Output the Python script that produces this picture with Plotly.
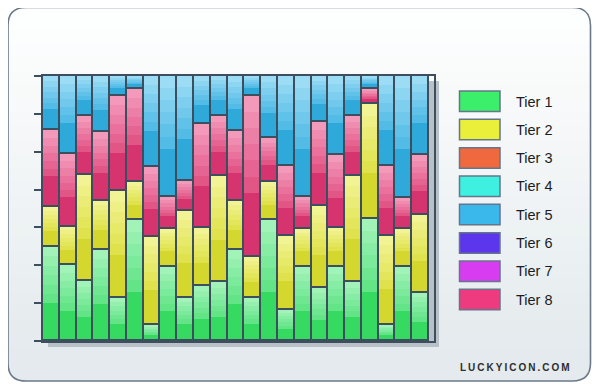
import plotly.graph_objects as go

# ---------------- data ----------------
bars = [str(i) for i in range(1, 24)]
tier_names = ["Tier 1", "Tier 2", "Tier 3", "Tier 4", "Tier 5", "Tier 6", "Tier 7", "Tier 8"]
tier1 = [35.5, 28.5, 22.8, 34.5, 16.3, 45.8, 6.1, 28.1, 16.3, 20.8, 22.3, 34.5, 16.3, 45.8, 11.7, 28.1, 20.0, 28.1, 22.3, 46.1, 6.2, 28.1, 18.3]
tier2 = [15.1, 14.7, 39.7, 18.5, 40.3, 14.2, 33.2, 14.2, 32.8, 21.9, 39.9, 18.5, 15.3, 14.2, 27.8, 14.2, 30.8, 14.7, 40.1, 43.3, 33.3, 14.2, 29.4]
tier3 = [0] * 23
tier4 = [0] * 23
tier5 = [20.5, 29.3, 15.0, 21.1, 7.5, 4.9, 34.4, 45.7, 39.7, 18.2, 15.2, 20.9, 7.5, 23.5, 34.1, 45.7, 17.3, 29.7, 15.2, 4.9, 34.1, 45.9, 29.7]
tier6 = [0] * 23
tier7 = [0] * 23
tier8 = [28.9, 27.5, 22.5, 25.9, 35.9, 35.1, 26.3, 12.0, 11.2, 39.1, 22.6, 26.1, 60.9, 16.5, 26.4, 12.0, 31.9, 27.5, 22.4, 5.7, 26.4, 11.8, 22.6]

# ---------------- style ----------------
legend_colors = ["#3cef6a", "#eaf03a", "#f0683e", "#3ef0e0", "#3ab8ec", "#5c36ec", "#d83cf0", "#ee3a7e"]
# (dark bottom, light-zone bottom, light-zone top) tones of each glossy segment
tones = {"Tier 1": ("#36da61", "#62e487", "#a2f3b8"),
         "Tier 2": ("#d4d82e", "#dfe24c", "#f2f394"),
         "Tier 3": ("#e05a30", "#ea7a56", "#f4a88c"),
         "Tier 4": ("#30d8c8", "#5ce4d8", "#9af2ea"),
         "Tier 5": ("#2fa9da", "#52bce6", "#9cdcf5"),
         "Tier 6": ("#5030d8", "#6e52e4", "#a28cf2"),
         "Tier 7": ("#c030d8", "#d058e4", "#e696f2"),
         "Tier 8": ("#d6346e", "#e25686", "#f39abb")}
DARK = 0.40
NBANDS = 6
outline = "#3d4e5e"

series = {"Tier 1": tier1, "Tier 2": tier2, "Tier 3": tier3, "Tier 4": tier4,
          "Tier 5": tier5, "Tier 6": tier6, "Tier 7": tier7, "Tier 8": tier8}
stack_order = ["Tier 1", "Tier 2", "Tier 3", "Tier 4", "Tier 6", "Tier 7", "Tier 8", "Tier 5"]

W, H = 600, 390
OFF = 8  # page body margin
L, R, T, B = 43, 434, 76, 341  # plot area in screen pixels
PW, PH = R - L, B - T


def px(x):
    return (x - L) / PW


def py(y):
    return (B - y) / PH


def hex2rgb(h):
    return tuple(int(h[i:i + 2], 16) for i in (1, 3, 5))


def mix(a, b, t):
    ca, cb = hex2rgb(a), hex2rgb(b)
    return "rgb(%d,%d,%d)" % tuple(round(ca[i] + (cb[i] - ca[i]) * t) for i in range(3))


xs = list(range(23))

fig = go.Figure()
for name in stack_order:
    vals = series[name]
    dk, lo, hi = tones[name]
    bands = [(dk, DARK)]
    for j in range(NBANDS):
        bands.append((mix(lo, hi, j / (NBANDS - 1)), (1 - DARK) / NBANDS))
    for tone, f in bands:
        fig.add_trace(go.Bar(x=xs, y=[v * f for v in vals], name=name,
                             marker=dict(color=tone, line=dict(width=0)),
                             showlegend=False, hoverinfo="skip", xaxis="x", yaxis="y"))
for name in stack_order:
    vals = series[name]
    if max(vals) == 0:
        continue
    fig.add_trace(go.Bar(x=xs, y=vals, name=name, customdata=bars,
                         marker=dict(color="rgba(0,0,0,0)", line=dict(color=outline, width=1.6)),
                         showlegend=False, xaxis="x2", yaxis="y"))

shapes = []
x0, x1, y0, y1, rad = 8, 590.5, 7.5, 381, 18


def rrect(top, rounded_top=True):
    p = []
    if rounded_top:
        p.append(f"M {px(x0)},{py(top + rad)}")
        p.append(f"Q {px(x0)},{py(top)} {px(x0 + rad)},{py(top)}")
        p.append(f"L {px(x1 - rad)},{py(top)}")
        p.append(f"Q {px(x1)},{py(top)} {px(x1)},{py(top + rad)}")
    else:
        p.append(f"M {px(x0)},{py(top)}")
        p.append(f"L {px(x1)},{py(top)}")
    p.append(f"L {px(x1)},{py(y1 - rad)}")
    p.append(f"Q {px(x1)},{py(y1)} {px(x1 - rad)},{py(y1)}")
    p.append(f"L {px(x0 + rad)},{py(y1)}")
    p.append(f"Q {px(x0)},{py(y1)} {px(x0)},{py(y1 - rad)}")
    p.append("Z")
    return " ".join(p)


c_top = "#fdfefe"
c_bot = "#e4eaed"
N = 24
shapes.append(dict(type="path", xref="paper", yref="paper", path=rrect(y0),
                   fillcolor=c_top, line=dict(width=0), layer="below"))
g0 = 30
for k in range(1, N + 1):
    top = g0 + (y1 - rad - 2 - g0) * (k - 1) / N
    shapes.append(dict(type="path", xref="paper", yref="paper", path=rrect(top, False),
                       fillcolor=mix(c_top, c_bot, k / N), line=dict(width=0), layer="below"))
shapes.append(dict(type="path", xref="paper", yref="paper", path=rrect(y0),
                   fillcolor="rgba(0,0,0,0)", line=dict(color="#6b7989", width=1.6), layer="below"))
shapes.append(dict(type="rect", xref="paper", yref="paper", x0=px(48), x1=px(439), y0=py(347), y1=py(81),
                   fillcolor="#b9c1c8", line=dict(width=0), layer="below"))

annotations = []
for i, name in enumerate(tier_names):
    top = 91 + 28.33 * i
    shapes.append(dict(type="rect", xref="paper", yref="paper", x0=px(459.5), x1=px(500),
                       y0=py(top + 20.5), y1=py(top), fillcolor=legend_colors[i],
                       line=dict(color="#65758a", width=1.5), layer="above"))
    annotations.append(dict(x=px(513.5), y=py(top + 10.5), xref="paper", yref="paper", text=name,
                            showarrow=False, xanchor="left", yanchor="middle",
                            font=dict(family="Liberation Sans, Arial", size=14.5, color="#1c1c1c")))

annotations.append(dict(x=px(515), y=py(367.5), xref="paper", yref="paper",
                        text="\u2009".join("LUCKYICON.COM"), showarrow=False,
                        xanchor="center", yanchor="middle",
                        font=dict(family="Liberation Sans, Arial", size=10, color="#2e2e2e", weight="bold")))

ticks = [100 * i / 7 for i in range(8)]
fig.update_layout(
    width=W, height=H, barmode="stack", bargap=0,
    margin=dict(l=L - OFF, r=W - (R - OFF), t=T - OFF, b=H - (B - OFF), pad=0),
    paper_bgcolor="white", plot_bgcolor="#fbfcfd",
    xaxis=dict(range=[-0.5, 22.8], showticklabels=False, ticks="", showgrid=False, zeroline=False,
               showline=True, linecolor=outline, linewidth=1.6, mirror=True, fixedrange=True),
    xaxis2=dict(range=[-0.5, 22.8], overlaying="x", visible=False, fixedrange=True),
    yaxis=dict(range=[0, 100], tickvals=ticks, showticklabels=False, ticks="outside", ticklen=7,
               tickwidth=1.5, tickcolor=outline, showgrid=False, zeroline=False,
               showline=True, linecolor=outline, linewidth=1.6, mirror=True, fixedrange=True),
    shapes=shapes, annotations=annotations, showlegend=False,
)

fig.write_html("out.html")
